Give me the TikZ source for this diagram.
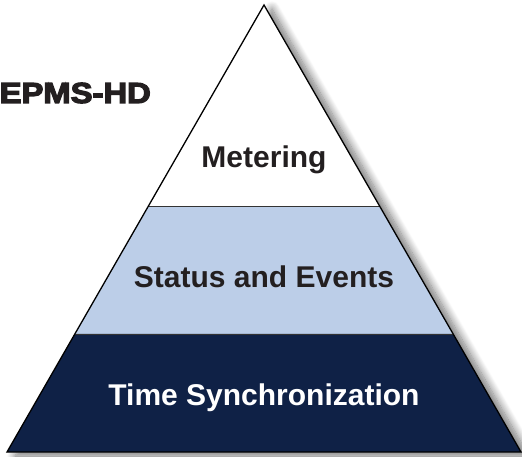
\documentclass[tikz,border=0pt]{standalone}
\usepackage{fontspec}
\setmainfont{Liberation Sans}
\newfontfamily\heavyfont[FakeBold=4]{Liberation Sans Bold}
\usetikzlibrary{calc,shadows.blur}
\definecolor{tierlight}{HTML}{BCCEE8}
\definecolor{tierdark}{HTML}{0F2146}
\definecolor{inktext}{HTML}{231F20}
\tikzset{
  tierlabel/.style={anchor=base, font=\fontsize{30}{36}\selectfont\bfseries},
  outline/.style={draw=black, line width=1.3pt, line join=miter},
  divider/.style={draw=black!80, line width=0.9pt}
}
\begin{document}
\begin{tikzpicture}[x=1pt,y=1pt]
\useasboundingbox (0,0) rectangle (522,456);
% corners of the pyramid
\coordinate (apex) at (264,451);
\coordinate (bl) at (7,4);
\coordinate (br) at (521,4);
% tier boundaries on both slopes
\coordinate (ml) at ($(bl)!0.5503!(apex)$);
\coordinate (mr) at ($(br)!0.5503!(apex)$);
\coordinate (ll) at ($(bl)!0.264!(apex)$);
\coordinate (lr) at ($(br)!0.264!(apex)$);
% soft shadow behind the whole pyramid
\fill[white, blur shadow={shadow xshift=8pt, shadow yshift=-4pt, shadow blur steps=12, shadow blur radius=8pt, shadow opacity=55}]
  (apex) -- (br) -- (bl) -- cycle;
% tiers
\fill[white] (apex) -- (mr) -- (ml) -- cycle;
\fill[tierlight] (ml) -- (mr) -- (lr) -- (ll) -- cycle;
\fill[tierdark] (ll) -- (lr) -- (br) -- (bl) -- cycle;
\draw[divider] (ml) -- (mr);
\draw[divider] (ll) -- (lr);
\draw[outline] (apex) -- (br) -- (bl) -- cycle;
% labels
\node[tierlabel, text=inktext] (metering) at (264,288) {Metering};
\node[tierlabel, text=inktext] (status) at (264,169) {Status and Events};
\node[tierlabel, text=white] (timesync) at (264,51) {Time Synchronization};
\node[anchor=base east, inner sep=0pt, text=inktext] (title) at (151,353)
  {\scalebox{1.13}[1]{\heavyfont\fontsize{29}{34}\selectfont EPMS-HD}};
\end{tikzpicture}
\end{document}
